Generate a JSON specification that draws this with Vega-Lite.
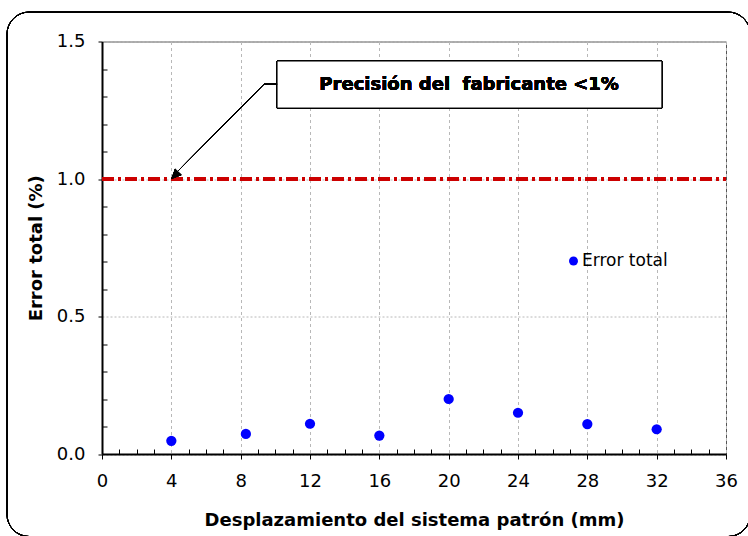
{
  "$schema": "https://vega.github.io/schema/vega-lite/v6.json",
  "width": 624,
  "height": 412.5,
  "autosize": {"type": "none"},
  "padding": {"left": 102, "top": 41.5, "right": 22, "bottom": 82},
  "background": "white",
  "config": {
    "view": {"stroke": "#555", "strokeWidth": 1},
    "font": "DejaVu Sans",
    "axis": {"labelFont": "DejaVu Sans", "titleFont": "DejaVu Sans", "labelColor": "#000", "titleColor": "#000", "domainColor": "#000", "tickColor": "#000"}
  },
  "data": {
    "values": [
      {"x": 4, "y": 0.048, "serie": "Error total"},
      {"x": 8.3, "y": 0.073, "serie": "Error total"},
      {"x": 12, "y": 0.11, "serie": "Error total"},
      {"x": 16, "y": 0.067, "serie": "Error total"},
      {"x": 20, "y": 0.2, "serie": "Error total"},
      {"x": 24, "y": 0.15, "serie": "Error total"},
      {"x": 28, "y": 0.109, "serie": "Error total"},
      {"x": 32, "y": 0.09, "serie": "Error total"}
    ]
  },
  "resolve": {"axis": {"x": "independent", "y": "independent"}},
  "layer": [
    {
      "mark": {"type": "rect", "fill": null, "stroke": "#000", "strokeWidth": 1, "cornerRadius": 22, "clip": false},
      "encoding": {
        "x": {"datum": -5.48, "type": "quantitative", "scale": {"domain": [0, 36], "nice": false, "zero": false}, "axis": null},
        "x2": {"datum": 37.4},
        "y": {"datum": 1.607, "type": "quantitative", "scale": {"domain": [0, 1.5], "nice": false, "zero": false}, "axis": null},
        "y2": {"datum": -0.3}
      }
    },
    {
      "mark": {"type": "rule", "strokeWidth": 0},
      "encoding": {
        "x": {"datum": 0, "type": "quantitative", "axis": {"orient": "bottom", "values": [1,2,3,5,6,7,9,10,11,13,14,15,17,18,19,21,22,23,25,26,27,29,30,31,33,34,35], "tickSize": -5, "labels": false, "domain": false, "grid": false, "title": null}},
        "y": {"datum": 0, "type": "quantitative", "axis": {"orient": "left", "values": [0.1,0.2,0.3,0.4,0.6,0.7,0.8,0.9,1.1,1.2,1.3,1.4], "tickSize": -5, "labels": false, "domain": false, "grid": false, "title": null}}
      }
    },
    {
      "mark": {"type": "circle", "size": 105, "opacity": 1},
      "encoding": {
        "x": {"field": "x", "type": "quantitative", "axis": {"orient": "bottom", "values": [0,4,8,12,16,20,24,28,32,36], "labelFlush": false, "tickSize": 5, "labelFontSize": 18, "labelPadding": 13, "grid": true, "gridDash": [3, 3], "gridColor": "#b8b8b8", "domainWidth": 2, "title": "Desplazamiento del sistema patrón (mm)", "titleFontSize": 18, "titleFontWeight": "bold", "titlePadding": 21}},
        "y": {"field": "y", "type": "quantitative", "axis": {"orient": "left", "values": [0, 0.5, 1.0, 1.5], "labelFlush": false, "format": ".1f", "tickSize": 4, "labelFontSize": 18, "labelPadding": 13, "grid": true, "gridDash": [2, 2], "gridColor": "#b8b8b8", "domainWidth": 2, "title": "Error total (%)", "titleFontSize": 18, "titleFontWeight": "bold", "titlePadding": 11}},
        "color": {"field": "serie", "type": "nominal", "scale": {"range": ["#0000ff"]}, "legend": {"title": null, "orient": "none", "legendX": 463, "legendY": 211, "padding": 0, "symbolType": "circle", "symbolSize": 80, "symbolStrokeWidth": 0, "labelFontSize": 17, "labelFont": "DejaVu Sans", "labelColor": "#000", "labelOffset": 0}}
      }
    },
    {
      "mark": {"type": "rule", "color": "#cc0000", "strokeWidth": 3, "strokeDash": [12, 4, 3, 4]},
      "encoding": {
        "x": {"datum": 0, "type": "quantitative", "axis": null},
        "x2": {"datum": 36},
        "y": {"datum": 1.0, "type": "quantitative", "axis": null}
      }
    },
    {
      "mark": {"type": "rect", "fill": "white", "stroke": "#000", "strokeWidth": 1},
      "encoding": {
        "x": {"datum": 10.1, "type": "quantitative", "axis": null},
        "x2": {"datum": 32.3},
        "y": {"datum": 1.429, "type": "quantitative", "axis": null},
        "y2": {"datum": 1.258}
      }
    },
    {
      "mark": {"type": "text", "text": "Precisión del \u00a0fabricante <1%", "font": "DejaVu Sans", "fontSize": 18, "fontWeight": "bold", "fill": "#000", "strokeWidth": 0, "align": "center", "baseline": "middle"},
      "encoding": {
        "x": {"datum": 21.18, "type": "quantitative", "axis": null},
        "y": {"datum": 1.342, "type": "quantitative", "axis": null}
      }
    },
    {
      "mark": {"type": "rule", "color": "#000", "strokeWidth": 1},
      "encoding": {
        "x": {"datum": 10.1, "type": "quantitative", "axis": null},
        "x2": {"datum": 9.35},
        "y": {"datum": 1.345, "type": "quantitative", "axis": null},
        "y2": {"datum": 1.345}
      }
    },
    {
      "mark": {"type": "rule", "color": "#000", "strokeWidth": 1},
      "encoding": {
        "x": {"datum": 9.35, "type": "quantitative", "axis": null},
        "x2": {"datum": 4.4},
        "y": {"datum": 1.345, "type": "quantitative", "axis": null},
        "y2": {"datum": 1.03}
      }
    },
    {
      "mark": {"type": "point", "shape": "M0,0L-0.45,-1L0.45,-1Z", "filled": true, "color": "#000", "opacity": 1, "size": 400, "angle": 44},
      "encoding": {
        "x": {"datum": 4.0, "type": "quantitative", "axis": null},
        "y": {"datum": 1.0, "type": "quantitative", "axis": null}
      }
    }
  ]
}
